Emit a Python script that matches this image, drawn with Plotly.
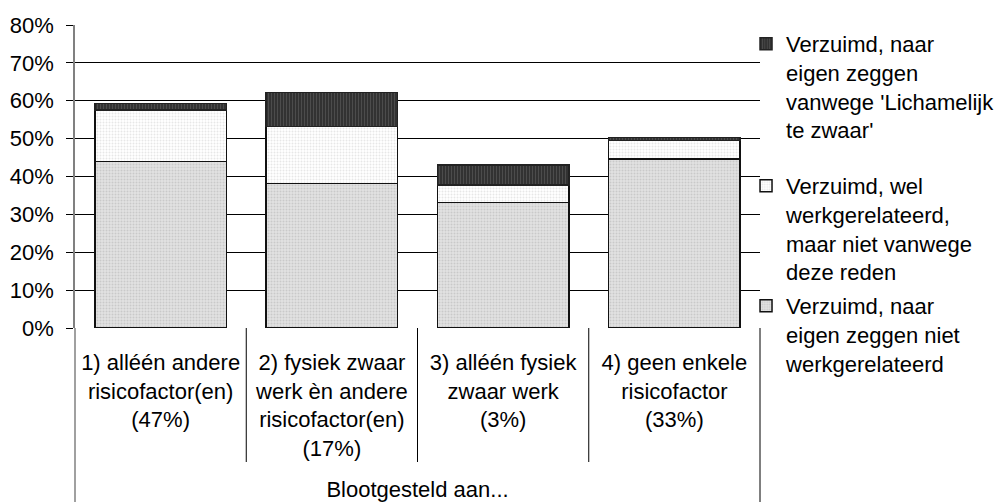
import plotly.graph_objects as go

categories = [
    "1) alléén andere<br>risicofactor(en)<br>(47%)",
    "2) fysiek zwaar<br>werk èn andere<br>risicofactor(en)<br>(17%)",
    "3) alléén fysiek<br>zwaar werk<br>(3%)",
    "4) geen enkele<br>risicofactor<br>(33%)",
]
group_label = "Blootgesteld aan..."

niet_werk = [43.9, 38.1, 33.2, 44.6]
wel_werk = [13.7, 15.1, 4.5, 4.9]
lich_zwaar = [1.7, 9.0, 5.4, 0.8]

names = [
    "Verzuimd, naar<br>eigen zeggen niet<br>werkgerelateerd",
    "Verzuimd, wel<br>werkgerelateerd,<br>maar niet vanwege<br>deze reden",
    "Verzuimd, naar<br>eigen zeggen<br>vanwege 'Lichamelijk<br>te zwaar'",
]
y_ticks = [0, 10, 20, 30, 40, 50, 60, 70, 80]
y_tick_labels = ["0%", "10%", "20%", "30%", "40%", "50%", "60%", "70%", "80%"]

FONT = "Liberation Sans, Arial, sans-serif"

fig = go.Figure()
fig.add_trace(go.Bar(
    x=categories, y=niet_werk, name=names[0], legend="legend3", showlegend=True,
    marker=dict(color="#e3e3e3", line=dict(color="#111", width=1.5),
                pattern=dict(shape=".", bgcolor="#e2e2e2", fgcolor="#b0b0b0", size=3, solidity=0.35)),
))
fig.add_trace(go.Bar(
    x=categories, y=wel_werk, name=names[1], legend="legend2", showlegend=True,
    marker=dict(color="#ffffff", line=dict(color="#111", width=1.5),
                pattern=dict(shape=".", bgcolor="#ffffff", fgcolor="#d0d0d0", size=3, solidity=0.35)),
))
fig.add_trace(go.Bar(
    x=categories, y=lich_zwaar, name=names[2], legend="legend", showlegend=True,
    marker=dict(color="#3a3a3a", line=dict(color="#222", width=1.5),
                pattern=dict(shape="|", bgcolor="#2e2e2e", fgcolor="#6a6a6a", size=3, solidity=0.4)),
))

shapes = []
shapes.append(dict(type="line", xref="paper", yref="paper", x0=0, x1=0, y0=0, y1=-174/303,
                   line=dict(color="#808080", width=1.5)))
shapes.append(dict(type="line", xref="paper", yref="paper", x0=1, x1=1, y0=0, y1=-174/303,
                   line=dict(color="#000", width=1)))
for i in range(len(categories) - 1):
    shapes.append(dict(type="line", xref="x", yref="paper", x0=i + 0.5, x1=i + 0.5,
                       y0=0, y1=-134/303, line=dict(color="#000", width=1)))

leg_common = dict(font=dict(family=FONT, size=22, color="#000"), bgcolor="rgba(0,0,0,0)",
                  xanchor="left", yanchor="top", valign="top", x=0.9796, visible=True)

fig.update_layout(
    width=995, height=502,
    margin=dict(l=75, r=235, t=25, b=174, autoexpand=False),
    showlegend=True,
    paper_bgcolor="white", plot_bgcolor="white",
    barmode="stack", bargap=0.231,
    font=dict(family=FONT, size=22, color="#000"),
    xaxis=dict(showgrid=False, showline=False, ticks="", tickfont=dict(family=FONT, size=22),
               ticklabelstandoff=19, automargin=False,
               title=dict(text=group_label, font=dict(family=FONT, size=22), standoff=28),
               fixedrange=True),
    yaxis=dict(range=[0, 80], tickmode="array", tickvals=y_ticks, ticktext=y_tick_labels,
               showgrid=True, gridcolor="#000", gridwidth=1, zeroline=False,
               showline=True, linecolor="#808080", linewidth=1.5, automargin=False,
               ticks="outside", ticklen=7, tickcolor="#000", ticklabelstandoff=8,
               tickfont=dict(family=FONT, size=22), fixedrange=True),
    legend=dict(y=(328 - 23) / 303, **leg_common),
    legend2=dict(y=(328 - 165) / 303, **leg_common),
    legend3=dict(y=(328 - 285) / 303, **leg_common),
    shapes=shapes,
)

fig.write_html("out.html", config={"displayModeBar": False},
               post_script="document.body.style.margin='0';document.body.style.padding='0';")
